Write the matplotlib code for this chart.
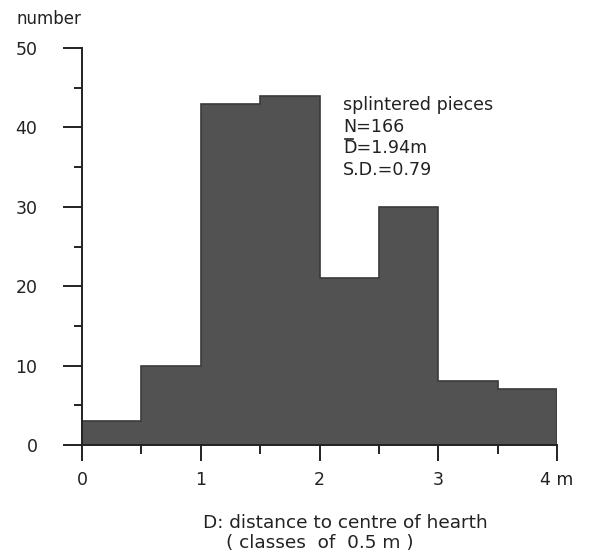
import numpy as np
import matplotlib.pyplot as plt
from matplotlib.lines import Line2D

# class edges (m) and counts per 0.5 m class
edges = [0, 0.5, 1.0, 1.5, 2.0, 2.5, 3.0, 3.5, 4.0]
counts = [3, 10, 43, 44, 21, 30, 8, 7]
xticks = [0, 1, 2, 3, 4]
xticklabels = ['0', '1', '2', '3', '4 m']
yticks = [0, 10, 20, 30, 40, 50]
info_lines = ['splintered pieces', 'N=166', 'D=1.94m', 'S.D.=0.79']

fig = plt.figure(figsize=(5.92, 5.52), dpi=100)
ax = fig.add_axes([82 / 592, 1 - 445 / 552, 475 / 592, 397 / 552])

# filled histogram without inner edges, outline drawn as steps
ax.bar(edges[:-1], counts, width=np.diff(edges), align='edge',
       color='#525252', linewidth=0)
ax.stairs(counts, edges, color='#3a3a3a', linewidth=1.2)

ax.set_xlim(0, 4)
ax.set_ylim(0, 50)
ax.spines['top'].set_visible(False)
ax.spines['right'].set_visible(False)
for s in ['left', 'bottom']:
    ax.spines[s].set_linewidth(1.4)
    ax.spines[s].set_color('#222222')

ax.set_xticks(xticks)
ax.set_xticklabels(xticklabels)
ax.set_xticks(np.arange(0.5, 4, 1.0), minor=True)
ax.set_yticks(yticks)
ax.set_yticks(np.arange(5, 50, 10), minor=True)

ax.tick_params(axis='y', which='major', length=14, width=1.4, pad=18,
               labelsize=12.5, colors='#222222')
ax.tick_params(axis='y', which='minor', length=6, width=1.4, colors='#222222')
ax.tick_params(axis='x', which='major', length=11.5, width=1.4, pad=7,
               labelsize=12.5, colors='#222222')
ax.tick_params(axis='x', which='minor', length=6.5, width=1.4, colors='#222222')

fig.text(17 / 592, 1 - 19 / 552, 'number', fontsize=12, va='center',
         color='#222222')

# info block, one line at a time (bar over the D drawn as a short line)
for i, line in enumerate(info_lines):
    fig.text(343 / 592, 1 - (105 + 21.7 * i) / 552, line, fontsize=12.6,
             va='center', ha='left', color='#222222')
fig.add_artist(Line2D([345 / 592, 353 / 592], [1 - 139 / 552, 1 - 139 / 552],
                      transform=fig.transFigure, color='#222222', linewidth=1.2))

fig.text(203 / 592, 1 - 523 / 552, 'D: distance to centre of hearth',
         fontsize=13.3, va='center', ha='left', color='#222222')
fig.text(226 / 592, 1 - 543 / 552, '( classes  of  0.5 m )',
         fontsize=13.3, va='center', ha='left', color='#222222')

fig.savefig('out.png', dpi=100)
